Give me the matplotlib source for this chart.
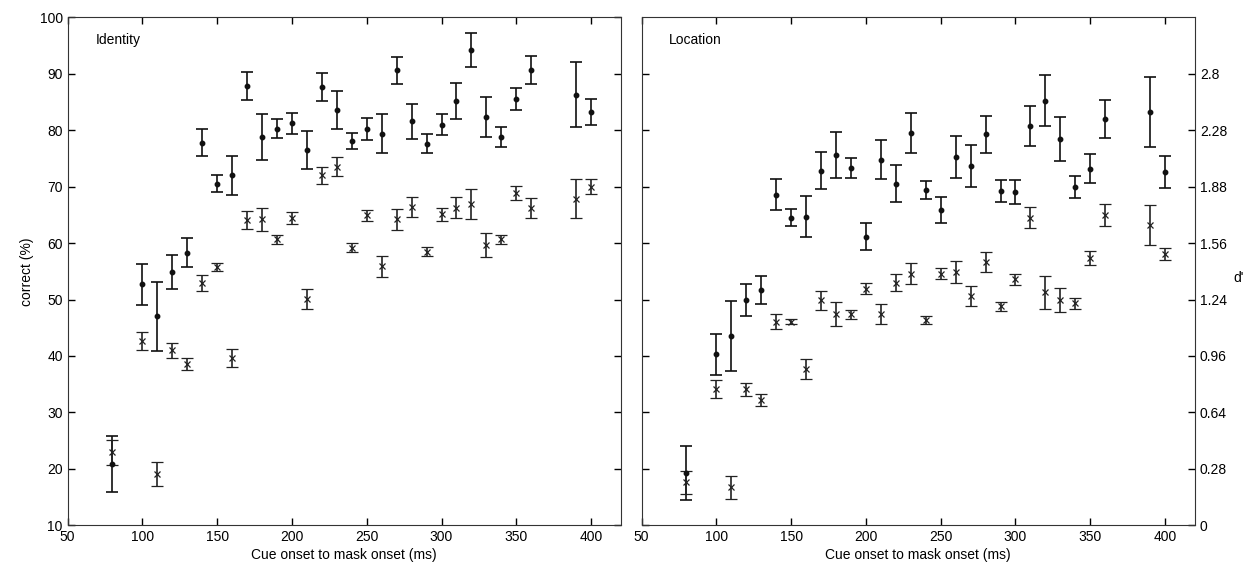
import matplotlib.pyplot as plt
import numpy as np

plt.rcParams['font.family'] = ['Liberation Sans', 'DejaVu Sans']

# cue onset to mask onset (ms)
onset = [80, 100, 110, 120, 130, 140, 150, 160, 170, 180, 190, 200, 210, 220, 230,
         240, 250, 260, 270, 280, 290, 300, 310, 320, 330, 340, 350, 360, 390, 400]

# Identity: percent correct (dots) and d' (crosses), with error half-widths
id_pc = [20.9, 52.7, 47.0, 54.9, 58.3, 77.8, 70.5, 72.0, 87.8, 78.8, 80.3, 81.2, 76.5, 87.6, 83.6,
         78.1, 80.2, 79.4, 90.6, 81.6, 77.6, 81.0, 85.2, 94.2, 82.3, 78.8, 85.5, 90.6, 86.3, 83.3]
id_pc_err = [5.0, 3.6, 6.1, 3.0, 2.6, 2.4, 1.5, 3.4, 2.5, 4.0, 1.7, 1.9, 3.4, 2.5, 3.3,
             1.4, 2.0, 3.4, 2.4, 3.1, 1.7, 1.9, 3.2, 3.0, 3.5, 1.7, 1.9, 2.5, 5.7, 2.3]
id_dp = [22.9, 42.7, 19.1, 41.0, 38.6, 52.9, 55.7, 39.6, 64.1, 64.2, 60.7, 64.4, 50.1, 72.0, 73.5,
         59.2, 64.9, 55.9, 64.2, 66.4, 58.5, 65.1, 66.3, 66.9, 59.6, 60.7, 68.9, 66.2, 67.9, 70.0]
id_dp_err = [2.3, 1.6, 2.2, 1.3, 1.1, 1.4, 0.7, 1.6, 1.6, 2.0, 0.8, 1.1, 1.7, 1.5, 1.7,
             0.8, 1.0, 1.9, 1.8, 1.7, 0.8, 1.1, 1.8, 2.6, 2.1, 0.8, 1.2, 1.8, 3.5, 1.3]

# Location
loc_pc = [19.2, 40.3, 43.5, 49.9, 51.7, 68.6, 64.5, 64.7, 72.8, 75.6, 73.3, 61.1, 74.8, 70.5, 79.5,
          69.4, 65.8, 75.2, 73.7, 79.3, 69.2, 69.0, 80.7, 85.2, 78.4, 69.9, 73.2, 82.0, 83.3, 72.6]
loc_pc_err = [4.8, 3.6, 6.2, 2.9, 2.5, 2.7, 1.5, 3.6, 3.3, 4.0, 1.8, 2.4, 3.4, 3.3, 3.5,
              1.6, 2.3, 3.7, 3.7, 3.3, 1.9, 2.1, 3.5, 4.5, 3.9, 1.9, 2.5, 3.4, 6.2, 2.9]
loc_dp = [17.6, 34.1, 16.7, 34.1, 32.2, 46.1, 46.1, 37.7, 49.9, 47.4, 47.4, 51.9, 47.4, 53.0, 54.6,
          46.4, 54.6, 54.9, 50.6, 56.6, 48.8, 53.6, 64.5, 51.3, 49.9, 49.3, 57.4, 65.0, 63.2, 58.1]
loc_dp_err = [2.0, 1.6, 2.1, 1.2, 1.1, 1.3, 0.5, 1.7, 1.7, 2.1, 0.8, 1.0, 1.8, 1.5, 1.9,
              0.7, 1.0, 1.9, 1.8, 1.8, 0.8, 1.0, 1.9, 2.9, 2.1, 0.9, 1.2, 1.9, 3.5, 1.1]

yticks = [10, 20, 30, 40, 50, 60, 70, 80, 90, 100]
dprime_labels = ['0', '0.28', '0.64', '0.96', '1.24', '1.56', '1.88', '2.28', '2.8']
xticks = [50, 100, 150, 200, 250, 300, 350, 400]


def panel(ax, name, pc, pc_err, dp, dp_err):
    ax.errorbar(onset, pc, yerr=pc_err, fmt='o', color='#111111', ms=3.2,
                elinewidth=1.2, capsize=4, capthick=1.2)
    ax.errorbar(onset, dp, yerr=dp_err, fmt='x', color='#222222', ms=4,
                mew=0.9, elinewidth=1.2, capsize=4, capthick=1.2)
    ax.set_xlim(50, 420)
    ax.set_ylim(10, 100)
    ax.set_xticks(xticks)
    ax.set_yticks(yticks)
    ax.tick_params(direction='in', length=5, top=True, right=True, labelsize=10, width=1)
    for s in ax.spines.values():
        s.set_color('#333333')
    ax.set_xlabel('Cue onset to mask onset (ms)', fontsize=10, labelpad=3)
    ax.text(0.05, 0.955, name, transform=ax.transAxes, fontsize=10, va='center')


fig = plt.figure(figsize=(12.45, 5.66), dpi=100)
ax1 = fig.add_axes([0.0543, 0.0719, 0.4445, 0.8975])
ax2 = fig.add_axes([0.5153, 0.0719, 0.4445, 0.8975])

panel(ax1, 'Identity', id_pc, id_pc_err, id_dp, id_dp_err)
ax1.set_ylabel('correct (%)', fontsize=10, labelpad=4)

panel(ax2, 'Location', loc_pc, loc_pc_err, loc_dp, loc_dp_err)
ax2.set_yticks(yticks[:-1])
ax2.set_yticklabels(dprime_labels)
ax2.tick_params(axis='y', labelleft=False, labelright=True)
ax2.yaxis.set_label_position('right')
ax2.set_ylabel("d'", fontsize=10, rotation=0, labelpad=8)

fig.savefig('out.png', dpi=100)
